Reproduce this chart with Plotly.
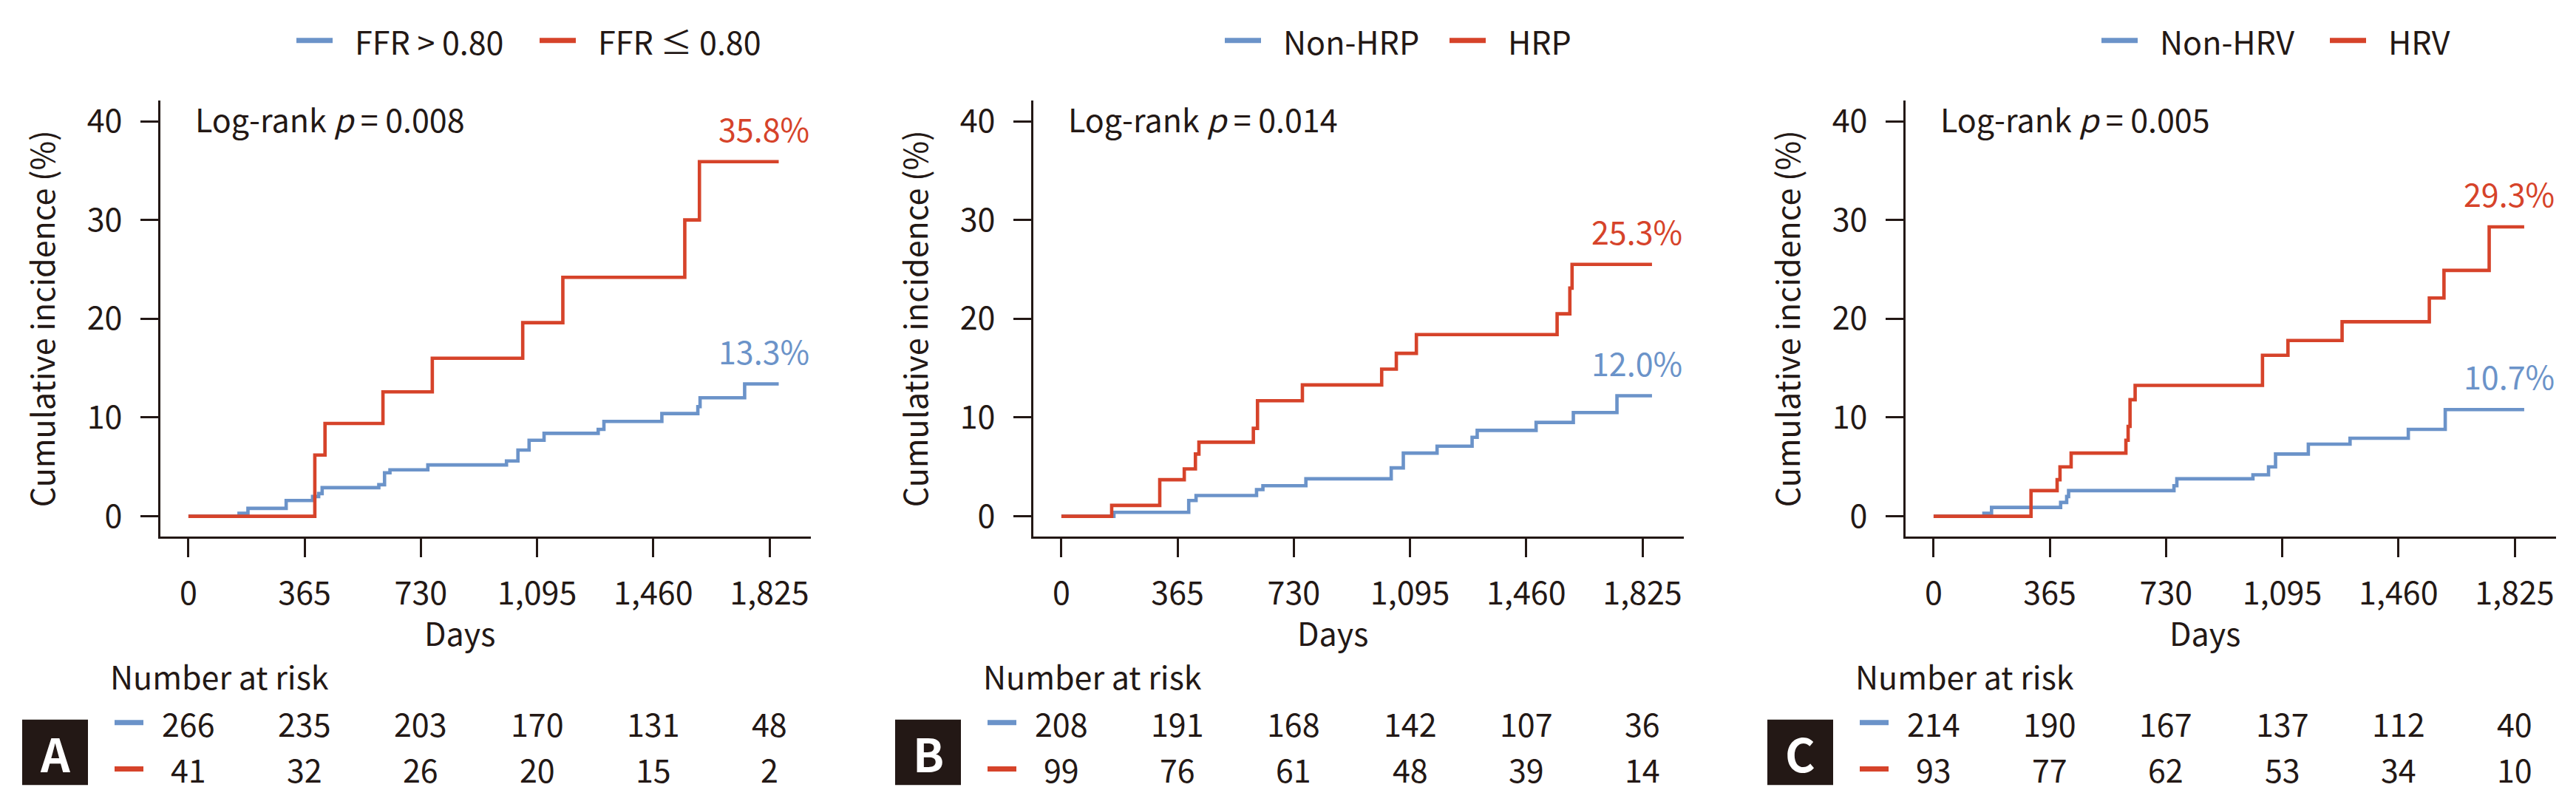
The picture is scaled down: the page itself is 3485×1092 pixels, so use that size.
import plotly.graph_objects as go

# cumulative incidence (%), days since index
a_hi_days = [0, 159, 187, 307, 390, 409, 420, 598, 616, 633, 752, 999, 1035, 1070, 1117, 1287, 1305, 1487, 1600, 1607, 1747, 1854]
a_hi_inc = [0, 0.3, 0.8, 1.6, 2.0, 2.3, 2.9, 3.2, 4.4, 4.7, 5.2, 5.6, 6.7, 7.7, 8.4, 8.8, 9.6, 10.4, 11.1, 12.0, 13.4, 13.4]
a_lo_days = [0, 397, 429, 611, 766, 1050, 1176, 1559, 1605, 1854]
a_lo_inc = [0, 6.2, 9.4, 12.6, 16.0, 19.6, 24.2, 30.0, 35.9, 35.9]

b_non_days = [0, 165, 400, 423, 613, 633, 768, 1036, 1074, 1180, 1290, 1306, 1491, 1608, 1745, 1855]
b_non_inc = [0, 0.4, 1.6, 2.1, 2.7, 3.1, 3.8, 4.9, 6.4, 7.1, 8.0, 8.7, 9.5, 10.5, 12.2, 12.2]
b_hrp_days = [0, 158, 309, 386, 421, 432, 603, 616, 757, 1006, 1052, 1115, 1557, 1597, 1604, 1855]
b_hrp_inc = [0, 1.1, 3.7, 4.8, 6.3, 7.5, 8.9, 11.7, 13.3, 14.9, 16.5, 18.4, 20.5, 23.1, 25.5, 25.5]

c_non_days = [0, 158, 182, 399, 418, 424, 755, 764, 1003, 1052, 1074, 1177, 1308, 1491, 1607, 1855]
c_non_inc = [0, 0.3, 0.9, 1.4, 2.0, 2.6, 3.1, 3.8, 4.2, 5.0, 6.3, 7.3, 7.9, 8.8, 10.8, 10.8]
c_hrv_days = [0, 306, 388, 397, 432, 604, 611, 617, 633, 1033, 1113, 1283, 1557, 1603, 1745, 1855]
c_hrv_inc = [0, 2.6, 3.7, 5.0, 6.4, 7.7, 9.1, 11.8, 13.25, 16.3, 17.8, 19.7, 22.1, 24.9, 29.3, 29.3]

tick_days = [0, 365, 730, 1095, 1460, 1825]
tick_text = ["0", "365", "730", "1,095", "1,460", "1,825"]

panel_letters = ["A", "B", "C"]
legend_names = [["FFR > 0.80", "FFR ≤ 0.80"], ["Non-HRP", "HRP"], ["Non-HRV", "HRV"]]
logrank = ["0.008", "0.014", "0.005"]
end_labels = [["13.3%", "35.8%"], ["12.0%", "25.3%"], ["10.7%", "29.3%"]]
risk_first = [[266, 235, 203, 170, 131, 48], [208, 191, 168, 142, 107, 36], [214, 190, 167, 137, 112, 40]]
risk_second = [[41, 32, 26, 20, 15, 2], [99, 76, 61, 48, 39, 14], [93, 77, 62, 53, 34, 10]]

curves = [
    [(a_hi_days, a_hi_inc), (a_lo_days, a_lo_inc)],
    [(b_non_days, b_non_inc), (b_hrp_days, b_hrp_inc)],
    [(c_non_days, c_non_inc), (c_hrv_days, c_hrv_inc)],
]

W, H = 3485, 1092
OFF = 8  # page body margin
BLUE = "#6b93c9"
RED = "#d6432a"
INK = "#231815"
FONT = "Noto Sans CJK KR, Noto Sans, sans-serif"
FS = 43

# left edge of each plot area (px) and legend dash starts
lefts = [217, 1398, 2578]
leg_pos = [[184, 513], [259, 563], [265, 574]]
plot_w = 880
top, bottom = 130, 724


def px(x):
    return (x - OFF) / W


def py(y):
    return 1 - (y - OFF) / H


fig = go.Figure()
shapes = []
ann = []

for i in range(3):
    n = "" if i == 0 else str(i + 1)
    L = lefts[i]
    for j, (d, v) in enumerate(curves[i]):
        fig.add_trace(go.Scatter(
            x=d, y=v, mode="lines", line_shape="hv",
            line=dict(color=[BLUE, RED][j], width=4.6),
            xaxis="x" + n, yaxis="y" + n, showlegend=False, hoverinfo="skip"))

    axis_common = dict(showline=True, linecolor=INK, linewidth=3, ticks="outside",
                       tickcolor=INK, tickwidth=3, showgrid=False, zeroline=False,
                       tickfont=dict(family=FONT, size=FS, color=INK))
    fig.layout["xaxis" + n] = dict(
        axis_common, domain=[px(L), px(L + plot_w)], range=[-88, 1955],
        tickvals=tick_days, ticktext=tick_text, ticklen=25, ticklabelstandoff=12,
        anchor="y" + n)
    fig.layout["yaxis" + n] = dict(
        axis_common, domain=[py(bottom), py(top)], range=[-2.08, 42.08],
        tickvals=[0, 10, 20, 30, 40], ticklen=24, ticklabelstandoff=16,
        anchor="x" + n)

    # legend on top
    for j in range(2):
        x0 = L + leg_pos[i][j]
        shapes.append(dict(type="line", xref="paper", yref="paper",
                           x0=px(x0), x1=px(x0 + 49), y0=py(48), y1=py(48),
                           line=dict(color=[BLUE, RED][j], width=7)))
        ann.append(dict(text=legend_names[i][j], x=px(x0 + 77), y=py(48),
                        xanchor="left", yanchor="middle"))

    ann.append(dict(text="Log-rank <i>p</i> = " + logrank[i], x=px(L + 45), y=py(154),
                    xanchor="left", yanchor="middle"))

    for j in range(2):
        ann.append(dict(text=end_labels[i][j], xref="x" + n + " domain", x=1,
                        yref="y" + n, y=curves[i][j][1][-1], xanchor="right",
                        yanchor="bottom", yshift=13, font=dict(color=[BLUE, RED][j])))

    ann.append(dict(text="Days", x=px(L + 405), y=py(853), xanchor="center", yanchor="middle"))
    ann.append(dict(text="Cumulative incidence (%)", x=px(L - 162), y=py(427),
                    xanchor="center", yanchor="middle", textangle=-90))

    # number at risk table
    ann.append(dict(text="Number at risk", x=px(L - 70), y=py(913),
                    xanchor="left", yanchor="middle"))
    for j, (row, yy) in enumerate([(risk_first[i], 977), (risk_second[i], 1040)]):
        shapes.append(dict(type="line", xref="paper", yref="paper",
                           x0=px(L - 62), x1=px(L - 23), y0=py(yy), y1=py(yy),
                           line=dict(color=[BLUE, RED][j], width=7)))
        for d, v in zip(tick_days, row):
            ann.append(dict(text=str(v), xref="x" + n, x=d, y=py(yy),
                            xanchor="center", yanchor="middle"))

    shapes.append(dict(type="rect", xref="paper", yref="paper",
                       x0=px(L - 187), x1=px(L - 98), y0=py(1062), y1=py(973),
                       fillcolor=INK, line=dict(width=0)))
    ann.append(dict(text="<b>" + panel_letters[i] + "</b>", x=px(L - 142.5), y=py(1017.5),
                    xanchor="center", yanchor="middle",
                    font=dict(family=FONT, size=62, color="white")))

for a in ann:
    a.setdefault("xref", "paper")
    a.setdefault("yref", "paper")
    a["showarrow"] = False
    f = dict(family=FONT, size=FS, color=INK)
    f.update(a.get("font", {}))
    a["font"] = f

fig.update_layout(
    width=W, height=H, autosize=False,
    margin=dict(l=0, r=0, t=0, b=0),
    paper_bgcolor="white", plot_bgcolor="white",
    shapes=shapes, annotations=ann,
    font=dict(family=FONT, size=FS, color=INK),
)

fig.write_html("out.html")
